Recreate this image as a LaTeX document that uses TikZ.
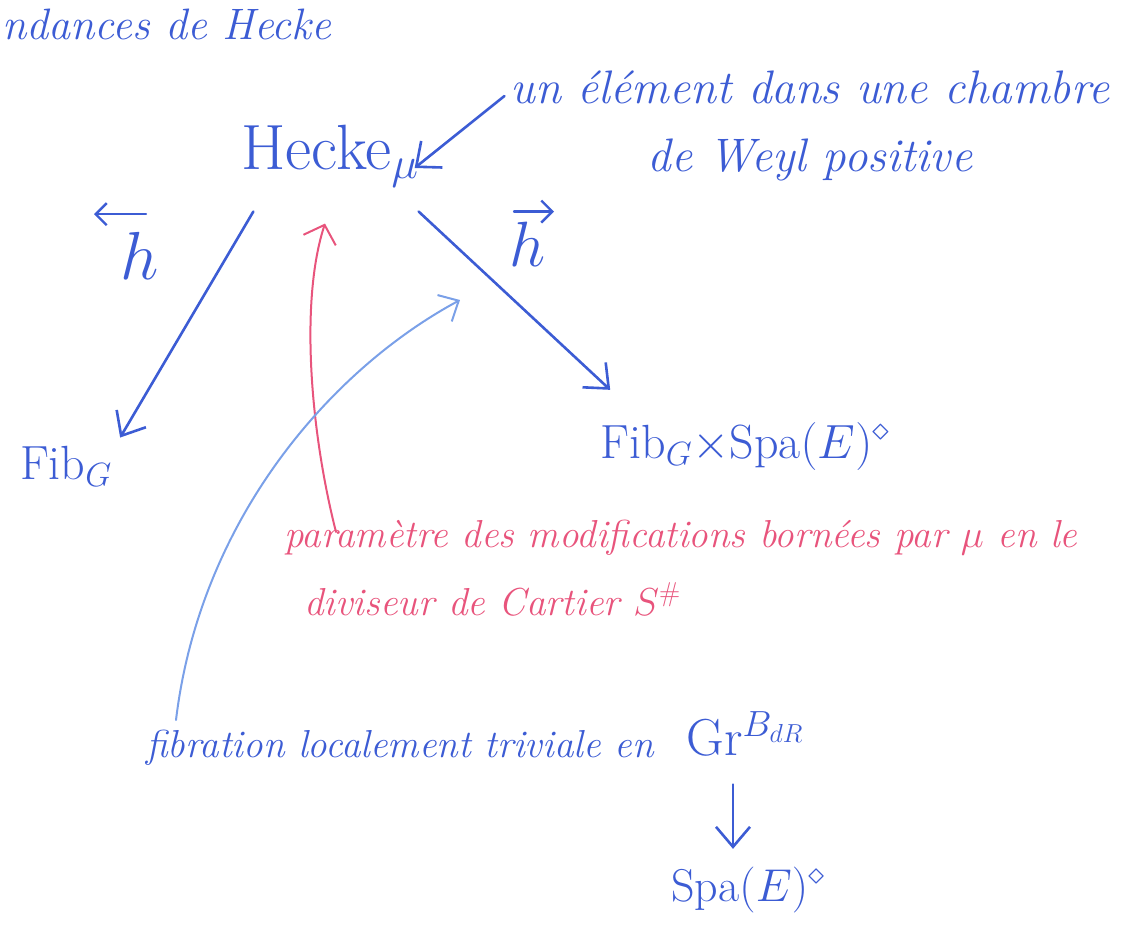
\RequirePackage{fix-cm}
\documentclass[tikz,border=0pt]{standalone}
\usepackage{amsmath}
\usetikzlibrary{arrows.meta,calc}
\definecolor{ink}{RGB}{60,92,212}
\definecolor{redink}{RGB}{232,84,124}
\definecolor{lightink}{RGB}{122,160,232}
\tikzset{
  hand/.style={text=ink, inner sep=2pt},
  redhand/.style={text=redink, inner sep=2pt},
  arr/.style={draw=ink, line width=2.6pt, line cap=round, -{Straight Barb[length=20pt,width=34pt,line width=2.6pt]}},
  smallarr/.style={draw=ink, line width=2.4pt, line cap=round, -{Straight Barb[length=11pt,width=22pt,line width=2.4pt]}},
  redarr/.style={draw=redink, line width=2pt, line cap=round, -{Straight Barb[length=16pt,width=34pt,line width=2pt]}},
  lightarr/.style={draw=lightink, line width=2pt, line cap=round, -{Straight Barb[length=16pt,width=30pt,line width=2pt]}}
}
\begin{document}
\begin{tikzpicture}[x=1pt,y=-1pt]
\useasboundingbox (0,0) rectangle (1142,934);
% texts
\node[hand, anchor=west, font=\fontsize{44}{48}\selectfont\itshape] (title) at (0,24) {ndances de Hecke};
\node[hand, font=\fontsize{64}{68}\selectfont] (hecke) at (330,156) {Hecke$_\mu$};
\node[hand, align=center, font=\fontsize{47}{68}\selectfont\itshape] (weyl) at (810,126) {un élément dans une chambre\\de Weyl positive};
\node[hand, font=\fontsize{68}{72}\selectfont] (hl) at (140,256) {$h$};
\node[hand, font=\fontsize{64}{68}\selectfont] (hr) at (528,244) {$h$};
\node[hand, font=\fontsize{48}{52}\selectfont] (fib) at (66,466) {Fib$_G$};
\node[hand, font=\fontsize{48}{52}\selectfont] (fibspa) at (745,446) {Fib$_G\times$Spa$(E)^\diamond$};
\node[redhand, anchor=north west, align=left, font=\fontsize{39}{68}\selectfont\itshape] (param) at (282,518) {paramètre des modifications bornées par $\mu$ en le\\\hspace{20pt}diviseur de Cartier $S^\#$};
\node[hand, font=\fontsize{39}{42}\selectfont\itshape] (fibr) at (400,748) {fibration localement triviale en};
\node[hand, font=\fontsize{52}{56}\selectfont] (gr) at (745,734) {Gr$^{B_{dR}}$};
\node[hand, font=\fontsize{46}{50}\selectfont] (spa) at (748,890) {Spa$(E)^\diamond$};
% coordinates
\coordinate (redtail) at (336,532);
\coordinate (lighttail) at (176,720);
\coordinate (lighthead) at (460,300);
% arrows above h
\draw[smallarr] ($(hl.north)+(6,-16)$) -- ($(hl.north)+(-46,-16)$);
\draw[smallarr] ($(hr.north)+(-14,-8)$) -- ($(hr.north)+(26,-8)$);
% connectors
\draw[arr] ($(weyl.west)+(-4,-30)$) -- ($(hecke.east)+(-6,12)$);
\draw[arr] ($(hecke.south west)+(14,22)$) -- ($(fib.north east)+(6,-6)$);
\draw[arr] ($(hecke.south east)+(-2,22)$) -- ($(fibspa.north west)+(12,-30)$);
\draw[redarr] (redtail) .. controls (310,430) and (300,300) .. ($(hecke.south)+(-5,34)$);
\draw[lightarr] (lighttail) .. controls (200,520) and (330,370) .. (lighthead);
\draw[arr] ($(gr.south)+(-12,26)$) -- ($(spa.north)+(-15,-16)$);
\end{tikzpicture}
\end{document}
